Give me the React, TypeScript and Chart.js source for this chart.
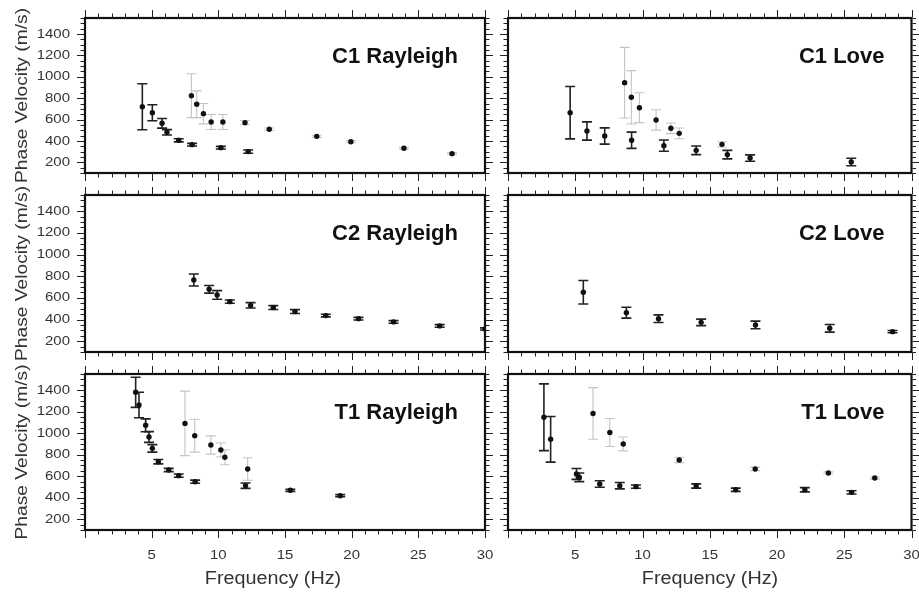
import React, { useEffect, useRef } from 'react';
import { Chart, registerables } from 'chart.js';

Chart.register(...registerables);

// ---------- axis / tick data ----------
const xMinorStep = 1;
const xMajorValues = [5, 10, 15, 20, 25, 30];
const xTickLabels = ['5', '10', '15', '20', '25', '30'];
const yMajorValues = [200, 400, 600, 800, 1000, 1200, 1400];
const yTickLabels = ['200', '400', '600', '800', '1000', '1200', '1400'];
const yMinorStep = 50;
const xRange = [0, 30];
const yRange = [100, 1550];

// ---------- C1 Rayleigh ----------
const c1rFreq = [4.3, 5.05, 5.78, 6.15, 7.03, 8.03, 10.19, 12.24];
const c1rVel = [720, 664, 565, 481, 406, 365, 337, 300];
const c1rErr = [215, 75, 45, 25, 15, 12, 12, 15];
const c1rFreqGray = [7.98, 8.38, 8.88, 9.46, 10.34, 12.0, 13.82, 17.38, 19.94, 23.92, 27.53];
const c1rVelGray = [823, 743, 655, 577, 577, 571, 509, 443, 393, 331, 281];
const c1rErrGray = [205, 125, 95, 70, 70, 20, 12, 10, 10, 10, 10];

// ---------- C1 Love ----------
const c1lFreq = [4.62, 5.87, 7.19, 9.19, 11.59, 13.99, 16.31, 18.0, 25.52];
const c1lVel = [664, 493, 446, 406, 356, 312, 272, 240, 203];
const c1lErr = [245, 85, 76, 76, 53, 40, 40, 30, 35];
const c1lFreqGray = [8.67, 9.17, 9.77, 11.01, 12.11, 12.73, 15.91];
const c1lVelGray = [945, 808, 711, 596, 518, 471, 368];
const c1lErrGray = [330, 250, 140, 95, 50, 50, 25];

// ---------- C2 Rayleigh ----------
const c2rFreq = [8.16, 9.31, 9.91, 10.86, 12.42, 14.12, 15.75, 18.06, 20.51, 23.14, 26.6, 30];
const c2rVel = [765, 679, 627, 565, 531, 510, 473, 436, 408, 378, 341, 313];
const c2rErr = [55, 35, 40, 15, 25, 18, 18, 12, 12, 12, 12, 10];
const c2rFreqGray: number[] = [];
const c2rVelGray: number[] = [];
const c2rErrGray: number[] = [];

// ---------- C2 Love ----------
const c2lFreq = [5.6, 8.8, 11.19, 14.36, 18.4, 23.92, 28.59];
const c2lVel = [652, 463, 408, 374, 350, 319, 288];
const c2lErr = [108, 50, 35, 30, 35, 35, 10];
const c2lFreqGray: number[] = [];
const c2lVelGray: number[] = [];
const c2lErrGray: number[] = [];

// ---------- T1 Rayleigh ----------
const t1rFreq = [3.8, 4.05, 4.55, 4.8, 5.05, 5.5, 6.28, 7.03, 8.26, 12.04, 15.4, 19.14];
const t1rVel = [1380, 1262, 1073, 964, 859, 735, 658, 605, 549, 512, 469, 419];
const t1rErr = [140, 118, 60, 50, 35, 20, 15, 15, 15, 25, 10, 10];
const t1rFreqGray = [7.5, 8.23, 9.44, 10.19, 10.49, 12.2];
const t1rVelGray = [1091, 977, 890, 844, 776, 667];
const t1rErrGray = [300, 153, 85, 65, 70, 105];

// ---------- T1 Love ----------
const t1lFreq = [2.67, 3.17, 5.09, 5.3, 6.82, 8.31, 9.51, 13.99, 16.93, 22.07, 25.54];
const t1lVel = [1148, 943, 621, 590, 528, 512, 503, 509, 474, 474, 450];
const t1lErr = [310, 212, 50, 40, 30, 30, 15, 20, 15, 20, 15];
const t1lFreqGray = [6.32, 7.57, 8.57, 12.73, 18.38, 23.82, 27.27];
const t1lVelGray = [1183, 1006, 900, 751, 667, 630, 583];
const t1lErrGray = [240, 130, 65, 25, 15, 10, 10];

const titles = ['C1 Rayleigh', 'C1 Love', 'C2 Rayleigh', 'C2 Love', 'T1 Rayleigh', 'T1 Love'];
const xTitle = 'Frequency (Hz)';
const yTitle = 'Phase Velocity (m/s)';

// ---------- layout (pixels) ----------
const W = 919;
const H = 593;
const ROWS = [
  { top: 18, bottom: 173 },
  { top: 195, bottom: 352 },
  { top: 374, bottom: 530 },
];
const COLS = [
  { left: 85, right: 485, xTitleCenter: 273 },
  { left: 508, right: 911.5, xTitleCenter: 710 },
];
const FONT = '"Liberation Sans", Arial, Helvetica, sans-serif';

type Group = { freq: number[]; vel: number[]; err: number[] };
type PanelCfg = { title: string; row: number; col: number; dark: Group; gray: Group };

const panels: PanelCfg[] = [
  { title: titles[0], row: 0, col: 0, dark: { freq: c1rFreq, vel: c1rVel, err: c1rErr }, gray: { freq: c1rFreqGray, vel: c1rVelGray, err: c1rErrGray } },
  { title: titles[1], row: 0, col: 1, dark: { freq: c1lFreq, vel: c1lVel, err: c1lErr }, gray: { freq: c1lFreqGray, vel: c1lVelGray, err: c1lErrGray } },
  { title: titles[2], row: 1, col: 0, dark: { freq: c2rFreq, vel: c2rVel, err: c2rErr }, gray: { freq: c2rFreqGray, vel: c2rVelGray, err: c2rErrGray } },
  { title: titles[3], row: 1, col: 1, dark: { freq: c2lFreq, vel: c2lVel, err: c2lErr }, gray: { freq: c2lFreqGray, vel: c2lVelGray, err: c2lErrGray } },
  { title: titles[4], row: 2, col: 0, dark: { freq: t1rFreq, vel: t1rVel, err: t1rErr }, gray: { freq: t1rFreqGray, vel: t1rVelGray, err: t1rErrGray } },
  { title: titles[5], row: 2, col: 1, dark: { freq: t1lFreq, vel: t1lVel, err: t1lErr }, gray: { freq: t1lFreqGray, vel: t1lVelGray, err: t1lErrGray } },
];

const errorBarPlugin = {
  id: 'errorBars',
  beforeDatasetsDraw(chart: any) {
    const ctx = chart.ctx as CanvasRenderingContext2D;
    const xs = chart.scales.x;
    const ys = chart.scales.y;
    const a = chart.chartArea;
    ctx.save();
    ctx.beginPath();
    ctx.rect(a.left, a.top, a.right - a.left, a.bottom - a.top);
    ctx.clip();
    chart.data.datasets.forEach((ds: any) => {
      const errs: number[] = ds.errors || [];
      ctx.strokeStyle = ds.barColor;
      ctx.lineWidth = ds.barWidth;
      ds.data.forEach((p: any, i: number) => {
        const e = errs[i] || 0;
        const x = xs.getPixelForValue(p.x);
        const yt = ys.getPixelForValue(p.y + e);
        const yb = ys.getPixelForValue(p.y - e);
        const cap = 5;
        ctx.beginPath();
        ctx.moveTo(x, yt);
        ctx.lineTo(x, yb);
        ctx.moveTo(x - cap, yt);
        ctx.lineTo(x + cap, yt);
        ctx.moveTo(x - cap, yb);
        ctx.lineTo(x + cap, yb);
        ctx.stroke();
      });
    });
    ctx.restore();
  },
};

function stretchedText(ctx: CanvasRenderingContext2D, text: string, x: number, y: number, sx: number) {
  ctx.save();
  ctx.translate(x, y);
  ctx.scale(sx, 1);
  ctx.fillText(text, 0, 0);
  ctx.restore();
}

function makeFramePlugin(cfg: PanelCfg) {
  return {
    id: 'frameTicks',
    afterDraw(chart: any) {
      const ctx = chart.ctx as CanvasRenderingContext2D;
      const xs = chart.scales.x;
      const ys = chart.scales.y;
      const a = chart.chartArea;
      ctx.save();
      // ticks
      ctx.strokeStyle = '#222';
      ctx.lineWidth = 1;
      ctx.beginPath();
      for (let v = xRange[0]; v <= xRange[1] + 1e-9; v += xMinorStep) {
        const major = xMajorValues.includes(v) || v === 0;
        const len = major ? 7 : 3.5;
        const x = Math.round(xs.getPixelForValue(v)) + 0.5;
        ctx.moveTo(x, a.top - 1);
        ctx.lineTo(x, a.top - 1 - len);
        ctx.moveTo(x, a.bottom + 1);
        ctx.lineTo(x, a.bottom + 1 + len);
      }
      for (let v = yRange[0]; v <= yRange[1] + 1e-9; v += yMinorStep) {
        const major = yMajorValues.includes(v);
        const len = major ? 7 : 3.5;
        const y = Math.round(ys.getPixelForValue(v)) + 0.5;
        ctx.moveTo(a.left - 1, y);
        ctx.lineTo(a.left - 1 - len, y);
        ctx.moveTo(a.right + 1, y);
        ctx.lineTo(a.right + 1 + len, y);
      }
      ctx.stroke();
      // frame
      ctx.strokeStyle = '#111';
      ctx.lineWidth = 2.2;
      ctx.strokeRect(a.left, a.top, a.right - a.left, a.bottom - a.top);

      // panel title
      ctx.fillStyle = '#111';
      ctx.font = `bold 22px ${FONT}`;
      ctx.textAlign = 'right';
      ctx.textBaseline = 'alphabetic';
      ctx.fillText(cfg.title, a.right - 27, a.top + 45);

      ctx.fillStyle = '#333';
      // y tick labels + title (left column)
      if (cfg.col === 0) {
        ctx.font = `13px ${FONT}`;
        ctx.textAlign = 'right';
        ctx.textBaseline = 'middle';
        yMajorValues.forEach((v, i) => {
          stretchedText(ctx, yTickLabels[i], a.left - 15, ys.getPixelForValue(v), 1.15);
        });
        ctx.save();
        ctx.font = `17px ${FONT}`;
        ctx.textAlign = 'center';
        ctx.textBaseline = 'middle';
        ctx.translate(22, (a.top + a.bottom) / 2);
        ctx.rotate(-Math.PI / 2);
        ctx.scale(1.13, 1);
        ctx.fillText(yTitle, 0, 0);
        ctx.restore();
      }
      // x tick labels + title (bottom row)
      if (cfg.row === 2) {
        ctx.font = `13px ${FONT}`;
        ctx.textAlign = 'center';
        ctx.textBaseline = 'middle';
        xMajorValues.forEach((v, i) => {
          stretchedText(ctx, xTickLabels[i], xs.getPixelForValue(v), a.bottom + 25, 1.15);
        });
        ctx.font = `18px ${FONT}`;
        stretchedText(ctx, xTitle, COLS[cfg.col].xTitleCenter, a.bottom + 49, 1.1);
      }
      ctx.restore();
    },
  };
}

function Panel({ cfg }: { cfg: PanelCfg }) {
  const ref = useRef<HTMLCanvasElement | null>(null);
  useEffect(() => {
    if (!ref.current) return;
    const r = ROWS[cfg.row];
    const c = COLS[cfg.col];
    const toPts = (g: Group) => g.freq.map((f, i) => ({ x: f, y: g.vel[i] }));
    const chart = new Chart(ref.current, {
      type: 'scatter',
      data: {
        datasets: [
          {
            label: 'gray',
            data: toPts(cfg.gray),
            errors: cfg.gray.err,
            barColor: '#c4c4c4',
            barWidth: 1.1,
            pointRadius: 2.7,
            pointBackgroundColor: '#111',
            pointBorderWidth: 0,
          } as any,
          {
            label: 'dark',
            data: toPts(cfg.dark),
            errors: cfg.dark.err,
            barColor: '#222',
            barWidth: 1.6,
            pointRadius: 2.7,
            pointBackgroundColor: '#111',
            pointBorderWidth: 0,
          } as any,
        ],
      },
      options: {
        responsive: false,
        maintainAspectRatio: false,
        animation: false,
        devicePixelRatio: 1,
        events: [],
        layout: {
          padding: { left: c.left, right: W - c.right, top: r.top, bottom: H - r.bottom },
        },
        scales: {
          x: { type: 'linear', min: xRange[0], max: xRange[1], display: false },
          y: { type: 'linear', min: yRange[0], max: yRange[1], display: false },
        },
        plugins: { legend: { display: false }, tooltip: { enabled: false } },
      },
      plugins: [errorBarPlugin, makeFramePlugin(cfg)],
    });
    return () => chart.destroy();
  }, [cfg]);
  return (
    <canvas
      ref={ref}
      width={W}
      height={H}
      style={{ position: 'absolute', left: 0, top: 0, width: W, height: H }}
    />
  );
}

export default function App() {
  return (
    <div style={{ position: 'absolute', left: 0, top: 0, width: W, height: H, background: '#fff', overflow: 'hidden' }}>
      {panels.map((p) => (
        <Panel key={p.title} cfg={p} />
      ))}
    </div>
  );
}
